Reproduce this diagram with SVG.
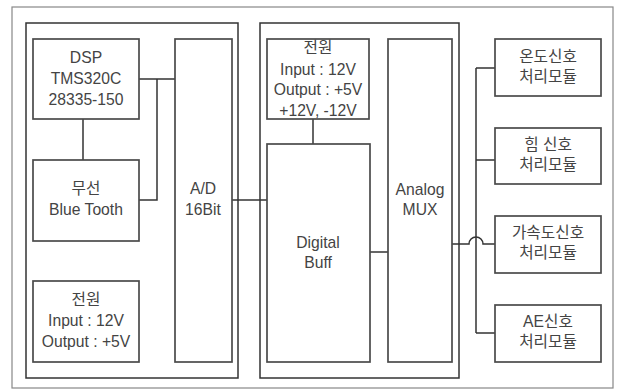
<svg xmlns="http://www.w3.org/2000/svg" width="617" height="389" viewBox="0 0 617 389">
<style>
.box{fill:#fff;stroke:#4a4a4a;stroke-width:1.7}
.grp{fill:none;stroke:#333;stroke-width:1.5}
.ln{fill:none;stroke:#333;stroke-width:1.5}
text{font-family:"Liberation Sans","Noto Sans CJK KR",sans-serif;font-size:15.7px;fill:#444;text-anchor:middle}
</style>
<rect width="617" height="389" fill="#fff"/>
<rect x="12" y="7" width="601" height="381" fill="none" stroke="#888" stroke-width="1.2"/>
<g id="groupLeft"><rect class="grp" x="26" y="23" width="212" height="355"/></g>
<g id="groupMid"><rect class="grp" x="260" y="23" width="199" height="355"/></g>
<g id="connectors">
<path class="ln" d="M139 79H175M157 79V200H139M83 119V160"/>
<path class="ln" d="M232 200H268"/>
<path class="ln" d="M313 119V144"/>
<path class="ln" d="M370 252H388"/>
<path class="ln" d="M476 68V333M476 68H495M476 160H495M476 333H495"/>
<path class="ln" d="M452 244H469A7 7 0 0 1 483 244H495"/>
</g>
<g id="dsp"><rect class="box" x="33" y="39" width="106" height="80"/>
<text x="86" y="63">DSP</text><text x="86" y="84">TMS320C</text><text x="86" y="105">28335-150</text></g>
<g id="wireless"><rect class="box" x="33" y="160" width="106" height="81"/>
<text x="86" y="194">무선</text><text x="86" y="215">Blue Tooth</text></g>
<g id="power1"><rect class="box" x="33" y="281" width="106" height="81"/>
<text x="86" y="305">전원</text><text x="86" y="326">Input : 12V</text><text x="86" y="347">Output : +5V</text></g>
<g id="ad"><rect class="box" x="175" y="39" width="57" height="323"/>
<text x="203" y="194">A/D</text><text x="203" y="215">16Bit</text></g>
<g id="power2"><rect class="box" x="267" y="39" width="102" height="80"/>
<text x="318" y="53">전원</text><text x="318" y="75">Input : 12V</text><text x="318" y="95">Output : +5V</text><text x="318" y="116">+12V, -12V</text></g>
<g id="buff"><rect class="box" x="267" y="144" width="103" height="218"/>
<text x="318" y="248">Digital</text><text x="318" y="268">Buff</text></g>
<g id="mux"><rect class="box" x="388" y="39" width="64" height="323"/>
<text x="420" y="195">Analog</text><text x="420" y="215">MUX</text></g>
<g id="m1"><rect class="box" x="495" y="39" width="106" height="57"/>
<text x="548" y="62">온도신호</text><text x="548" y="82">처리모듈</text></g>
<g id="m2"><rect class="box" x="495" y="128" width="106" height="56"/>
<text x="548" y="150">힘 신호</text><text x="548" y="170">처리모듈</text></g>
<g id="m3"><rect class="box" x="495" y="216" width="106" height="57"/>
<text x="548" y="238">가속도신호</text><text x="548" y="258">처리모듈</text></g>
<g id="m4"><rect class="box" x="495" y="305" width="106" height="57"/>
<text x="548" y="327">AE신호</text><text x="548" y="347">처리모듈</text></g>
</svg>
